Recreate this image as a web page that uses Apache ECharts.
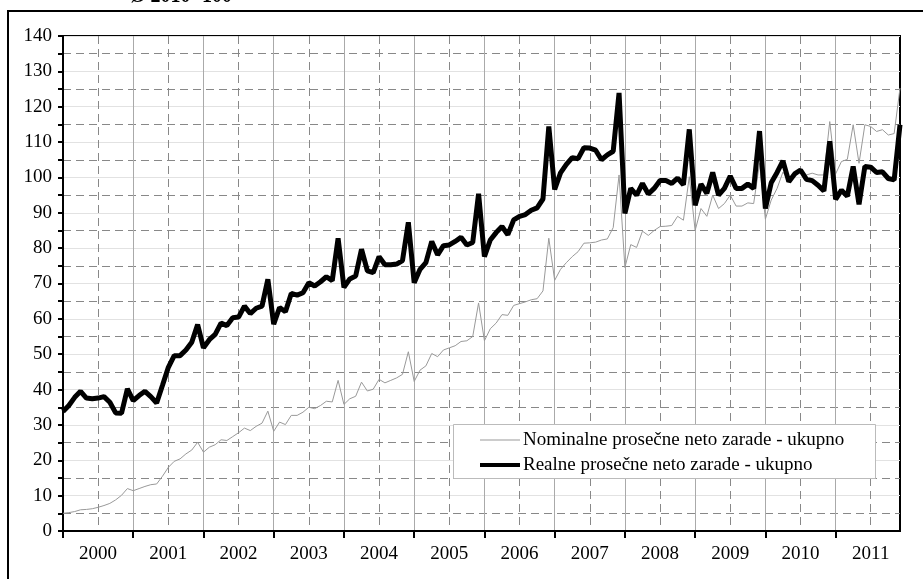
<!DOCTYPE html>
<html>
<head>
<meta charset="utf-8">
<script src="https://cdn.jsdelivr.net/npm/echarts@6/dist/echarts.min.js"></script>
<style>
  html, body { margin: 0; padding: 0; background: #fff; }
  #chart { width: 923px; height: 579px; }
</style>
</head>
<body>
<div id="chart"></div>
<script>
// godine i meseci (jan 2000 - dec 2011)
const years = ['2000', '2001', '2002', '2003', '2004', '2005', '2006', '2007', '2008', '2009', '2010', '2011']
const months = ['01', '02', '03', '04', '05', '06', '07', '08', '09', '10', '11', '12']

// nominalne prosečne neto zarade, Ø 2010=100
const nominal = [
  5, 5.2, 5.5, 6, 6.1, 6.3, 6.7, 7.2, 7.8, 8.8, 10.1, 12,
  11.4, 12, 12.6, 13.1, 13.3, 15.5, 18, 19.7, 20.4, 21.8, 22.9, 25.1,
  22.3, 23.7, 24.4, 25.8, 25.6, 26.7, 27.8, 29.1, 28.4, 29.6, 30.5, 33.9,
  28.2, 30.8, 30.1, 32.7, 32.7, 33.6, 35, 34.6, 35.5, 36.7, 36.5, 42.6,
  35.8, 37.4, 38.1, 42.1, 39.6, 40.1, 42.9, 41.9, 42.6, 43.3, 44.3, 50.7,
  42.3, 45.5, 46.7, 50.2, 49.3, 51.2, 51.8, 52.4, 53.6, 53.8, 55, 64.5,
  53.8, 57.2, 58.8, 61.2, 61, 63.8, 64.3, 64.8, 65.4, 65.7, 67.9, 82.8,
  70.9, 74, 75.9, 77.6, 79, 81.4, 81.5, 81.7, 82.3, 82.6, 85.8, 100.7,
  74.5, 81, 80.2, 84.8, 83.6, 85, 86.1, 86.2, 86.4, 89, 87.9, 100.2,
  85, 91.2, 89, 95, 91.2, 92.6, 95, 91.9, 91.9, 92.8, 92.6, 104,
  88.2, 93.6, 96.9, 101.5, 99.1, 100.7, 102.1, 100.7, 101.2, 100.7, 100.7, 115.8,
  101, 104.5, 105.1, 114.9, 104, 114.9, 114.4, 113, 113.5, 112, 112.4, 125.3
]

// realne prosečne neto zarade, Ø 2010=100
const real = [
  33.8, 35.5, 37.8, 39.5, 37.6, 37.4, 37.6, 38, 36.4, 33.4, 33.3, 40.2,
  36.9, 38.3, 39.5, 38, 36.2, 41.2, 46.3, 49.6, 49.6, 51.2, 53.4, 58.4,
  51.8, 54.1, 55.6, 58.8, 58.1, 60.3, 60.5, 63.6, 61.5, 63, 63.6, 71.2,
  58.5, 63.2, 62, 67.2, 66.7, 67.4, 70.2, 69.3, 70.5, 71.9, 70.8, 82.8,
  68.9, 71.3, 72.1, 79.7, 73.6, 73.1, 77.6, 75.3, 75.3, 75.5, 76.5, 87.3,
  70.2, 74, 75.9, 81.9, 78.1, 80.7, 80.9, 81.9, 83.1, 80.9, 81.6, 95.4,
  77.6, 82.3, 84.4, 86.1, 83.8, 88, 89, 89.5, 90.7, 91.4, 93.9, 114.4,
  96.6, 101.3, 103.7, 105.6, 105.3, 108.4, 108.3, 107.7, 105, 106.4, 107.4, 123.9,
  89.8, 96.9, 95, 98.3, 95.3, 96.9, 99.1, 99.1, 98.3, 99.8, 97.9, 113.6,
  92.1, 98.1, 95.5, 101.4, 95, 96.9, 100.4, 96.9, 96.9, 98.1, 96.9, 113.1,
  91.2, 98.5, 101.4, 104.7, 98.8, 101, 102.1, 99.5, 99.1, 97.8, 96.2, 110.2,
  93.8, 96.4, 94.7, 103.1, 92.4, 103.1, 102.9, 101.4, 101.6, 99.7, 99.3, 114.9
]

const seriesNames = ['Nominalne prosečne neto zarade - ukupno', 'Realne prosečne neto zarade - ukupno']

const categories = years.flatMap(y => months.map(m => y + '-' + m))

const font = '"Liberation Serif", "Times New Roman", serif'

const chart = echarts.init(document.getElementById('chart'))

// zajednicka podesavanja za obe legende
function legendFor(name, top, height) {
  return {
    orient: 'vertical',
    left: 480,
    top: top,
    padding: 0,
    icon: 'rect',
    itemWidth: 40,
    itemHeight: height,
    textStyle: { fontFamily: font, fontSize: 19, color: '#000', lineHeight: 20, padding: [0, 0, 0, -2] },
    data: [name]
  }
}

const option = {
  animation: false,
  title: {
    text: 'Ø 2010=100',
    left: 130,
    top: -13,
    padding: 0,
    textStyle: { fontFamily: font, fontSize: 20, fontWeight: 'bold', color: '#000' }
  },
  graphic: [
    {
      type: 'rect',
      shape: { x: 8, y: 11, width: 940, height: 620 },
      style: { fill: 'none', stroke: '#000', lineWidth: 2 },
      silent: true
    },
    {
      // okvir legende
      type: 'rect',
      z: 3,
      shape: { x: 453.5, y: 424.5, width: 422, height: 54 },
      style: { fill: '#fff', stroke: '#bbb', lineWidth: 1 },
      silent: true
    }
  ],
  grid: {
    left: 63,
    right: 23,
    top: 36,
    bottom: 48,
    show: true,
    borderColor: '#000',
    borderWidth: 2,
    backgroundColor: 'transparent'
  },
  legend: [
    legendFor(seriesNames[0], 430, 1),
    legendFor(seriesNames[1], 455, 4)
  ],
  xAxis: [
    {
      type: 'category',
      data: categories,
      boundaryGap: false,
      axisLine: { lineStyle: { color: '#000', width: 2 } },
      axisTick: {
        interval: i => i % 12 === 0,
        length: 7,
        lineStyle: { color: '#000', width: 2 }
      },
      axisLabel: {
        interval: i => i % 12 === 6,
        formatter: v => v.slice(0, 4),
        margin: 14,
        fontFamily: font,
        fontSize: 19,
        color: '#000'
      },
      splitLine: {
        show: true,
        interval: i => i % 12 === 0,
        lineStyle: { color: '#aaa', width: 1 }
      }
    },
    {
      // polugodisnje isprekidane linije
      type: 'category',
      data: categories,
      boundaryGap: false,
      position: 'top',
      axisLine: { show: false },
      axisTick: { show: false },
      axisLabel: { show: false },
      splitLine: {
        show: true,
        interval: i => i % 12 === 6,
        lineStyle: { color: '#888', width: 1, type: [8, 5] }
      }
    }
  ],
  yAxis: {
    type: 'value',
    min: 0,
    max: 140,
    interval: 10,
    axisLine: { show: true, lineStyle: { color: '#000', width: 2 } },
    axisTick: { show: true, length: 5, lineStyle: { color: '#000', width: 2 } },
    minorTick: { show: true, splitNumber: 2, length: 5, lineStyle: { color: '#000', width: 2 } },
    axisLabel: { margin: 11, fontFamily: font, fontSize: 19, color: '#000' },
    splitLine: { lineStyle: { color: '#e2e2e2', width: 1 } },
    minorSplitLine: { show: true, lineStyle: { color: '#888', width: 1, type: [8, 5] } }
  },
  series: [
    {
      name: seriesNames[0],
      type: 'line',
      xAxisIndex: 0,
      data: nominal,
      symbol: 'none',
      lineStyle: { color: '#999', width: 1 },
      itemStyle: { color: '#999' }
    },
    {
      name: seriesNames[1],
      type: 'line',
      xAxisIndex: 0,
      data: real,
      symbol: 'none',
      lineStyle: { color: '#000', width: 5 },
      itemStyle: { color: '#000' }
    }
  ]
}

chart.setOption(option)
</script>
</body>
</html>
